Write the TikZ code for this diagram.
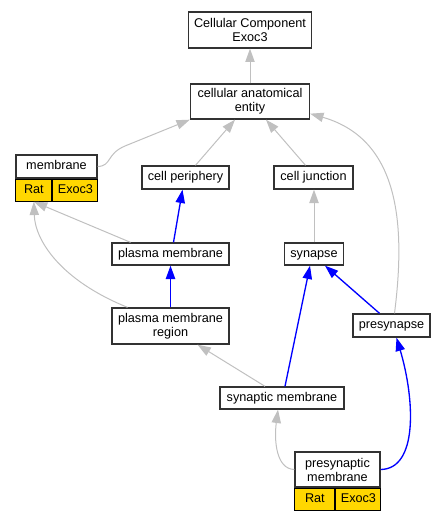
\documentclass[tikz,border=0pt]{standalone}
\usepackage{fontspec}
\setmainfont{Liberation Sans}
\usepackage{tikz}
\usetikzlibrary{arrows.meta}
\usetikzlibrary{calc}

\definecolor{boxline}{RGB}{50,50,50}
\definecolor{isagray}{RGB}{192,192,192}
\definecolor{ratgold}{RGB}{255,215,0}

\tikzset{
  term/.style={draw=boxline, fill=white, line width=1pt, inner sep=0pt, align=center,
    font=\fontsize{9.5}{10.5}\selectfont},
  oneline/.style={term, text height=7pt, text depth=2pt},
  cell/.style={oneline, draw=black, fill=ratgold, line width=0.8pt, minimum height=16.5pt, anchor=north west},
  isa/.style={draw=isagray, line width=0.75pt, -{Triangle[length=10pt,width=7pt]}},
  partof/.style={draw=blue, line width=1pt, -{Triangle[length=10pt,width=7pt]}}
}

\begin{document}
\begin{tikzpicture}[x=0.75pt,y=0.75pt,yscale=-1,xscale=1]
\useasboundingbox (0,0) rectangle (447,520);

% Terms
\node[term, minimum width=92.25pt, minimum height=27pt] (cc) at (250,30) {Cellular Component\\Exoc3};
\node[term, minimum width=89.25pt, minimum height=26.25pt] (cae) at (250,101.5) {cellular anatomical\\entity};
\node[oneline, minimum width=60.75pt, minimum height=17.25pt] (mem) at (56.5,166.5) {membrane};
\node[cell, minimum width=27pt] (memrat) at (mem.south west) {Rat};
\node[cell, minimum width=33.75pt] (memexoc) at (memrat.north east) {Exoc3};
\node[oneline, minimum width=65.25pt, minimum height=17.25pt] (cellper) at (185.5,177.5) {cell periphery};
\node[oneline, minimum width=59.25pt, minimum height=17.25pt] (celljun) at (313.5,177.5) {cell junction};
\node[oneline, minimum width=87.75pt, minimum height=16.5pt] (plasma) at (170.5,254) {plasma membrane};
\node[oneline, minimum width=44.25pt, minimum height=16.5pt] (synapse) at (314,254) {synapse};
\node[term, minimum width=87.75pt, minimum height=27pt] (pmr) at (170.5,326) {plasma membrane\\region};
\node[oneline, minimum width=57.75pt, minimum height=17.25pt] (presyn) at (391.5,325.5) {presynapse};
\node[oneline, minimum width=93pt, minimum height=16.5pt] (synmem) at (282,398) {synaptic membrane};
\node[term, minimum width=63.75pt, minimum height=26.25pt] (pmm) at (337.5,469.5) {presynaptic\\membrane};
\node[cell, minimum width=30pt] (pmmrat) at (pmm.south west) {Rat};
\node[cell, minimum width=33.75pt] (pmmexoc) at (pmmrat.north east) {Exoc3};

% is_a
\draw[isa] (cae.north) -- (cc.south);
\draw[isa] (mem.east) .. controls (112,166) and (106,154) .. (125,146) -- (cae.south west);
\draw[isa] ($(cellper.north)+(10,0)$) -- ($(cae.south)+(-15,0)$);
\draw[isa] ($(celljun.north)+(-8,0)$) -- ($(cae.south)+(16,0)$);
\draw[isa] ($(presyn.north)+(3,0)$) .. controls (405,230) and (402,140) .. ($(cae.south east)+(0,-6)$);
\draw[isa] (synapse.north) -- (synapse.north |- celljun.south);
\draw[isa] ($(plasma.north)+(-40,0)$) -- (memrat.south);
\draw[isa] ($(pmr.north)+(-43,0)$) .. controls (60,280) and (35,240) .. (memrat.south);
\draw[isa] ($(synmem.north)+(-17,0)$) -- ($(pmr.south)+(27,0)$);
\draw[isa] (pmm.west) .. controls (276,469) and (274,440) .. ($(synmem.south)+(-4,0)$);

% part_of
\draw[partof] ($(plasma.north)+(3,0)$) -- ($(cellper.south)+(-3,0)$);
\draw[partof] (pmr.north) -- (plasma.south);
\draw[partof] ($(synmem.north)+(3,0)$) -- ($(synapse.south)+(-4,0)$);
\draw[partof] ($(presyn.north)+(-12,0)$) -- ($(synapse.south)+(11,0)$);
\draw[partof] (pmm.east) .. controls (418,469) and (415,400) .. ($(presyn.south)+(5,0)$);

\end{tikzpicture}
\end{document}
